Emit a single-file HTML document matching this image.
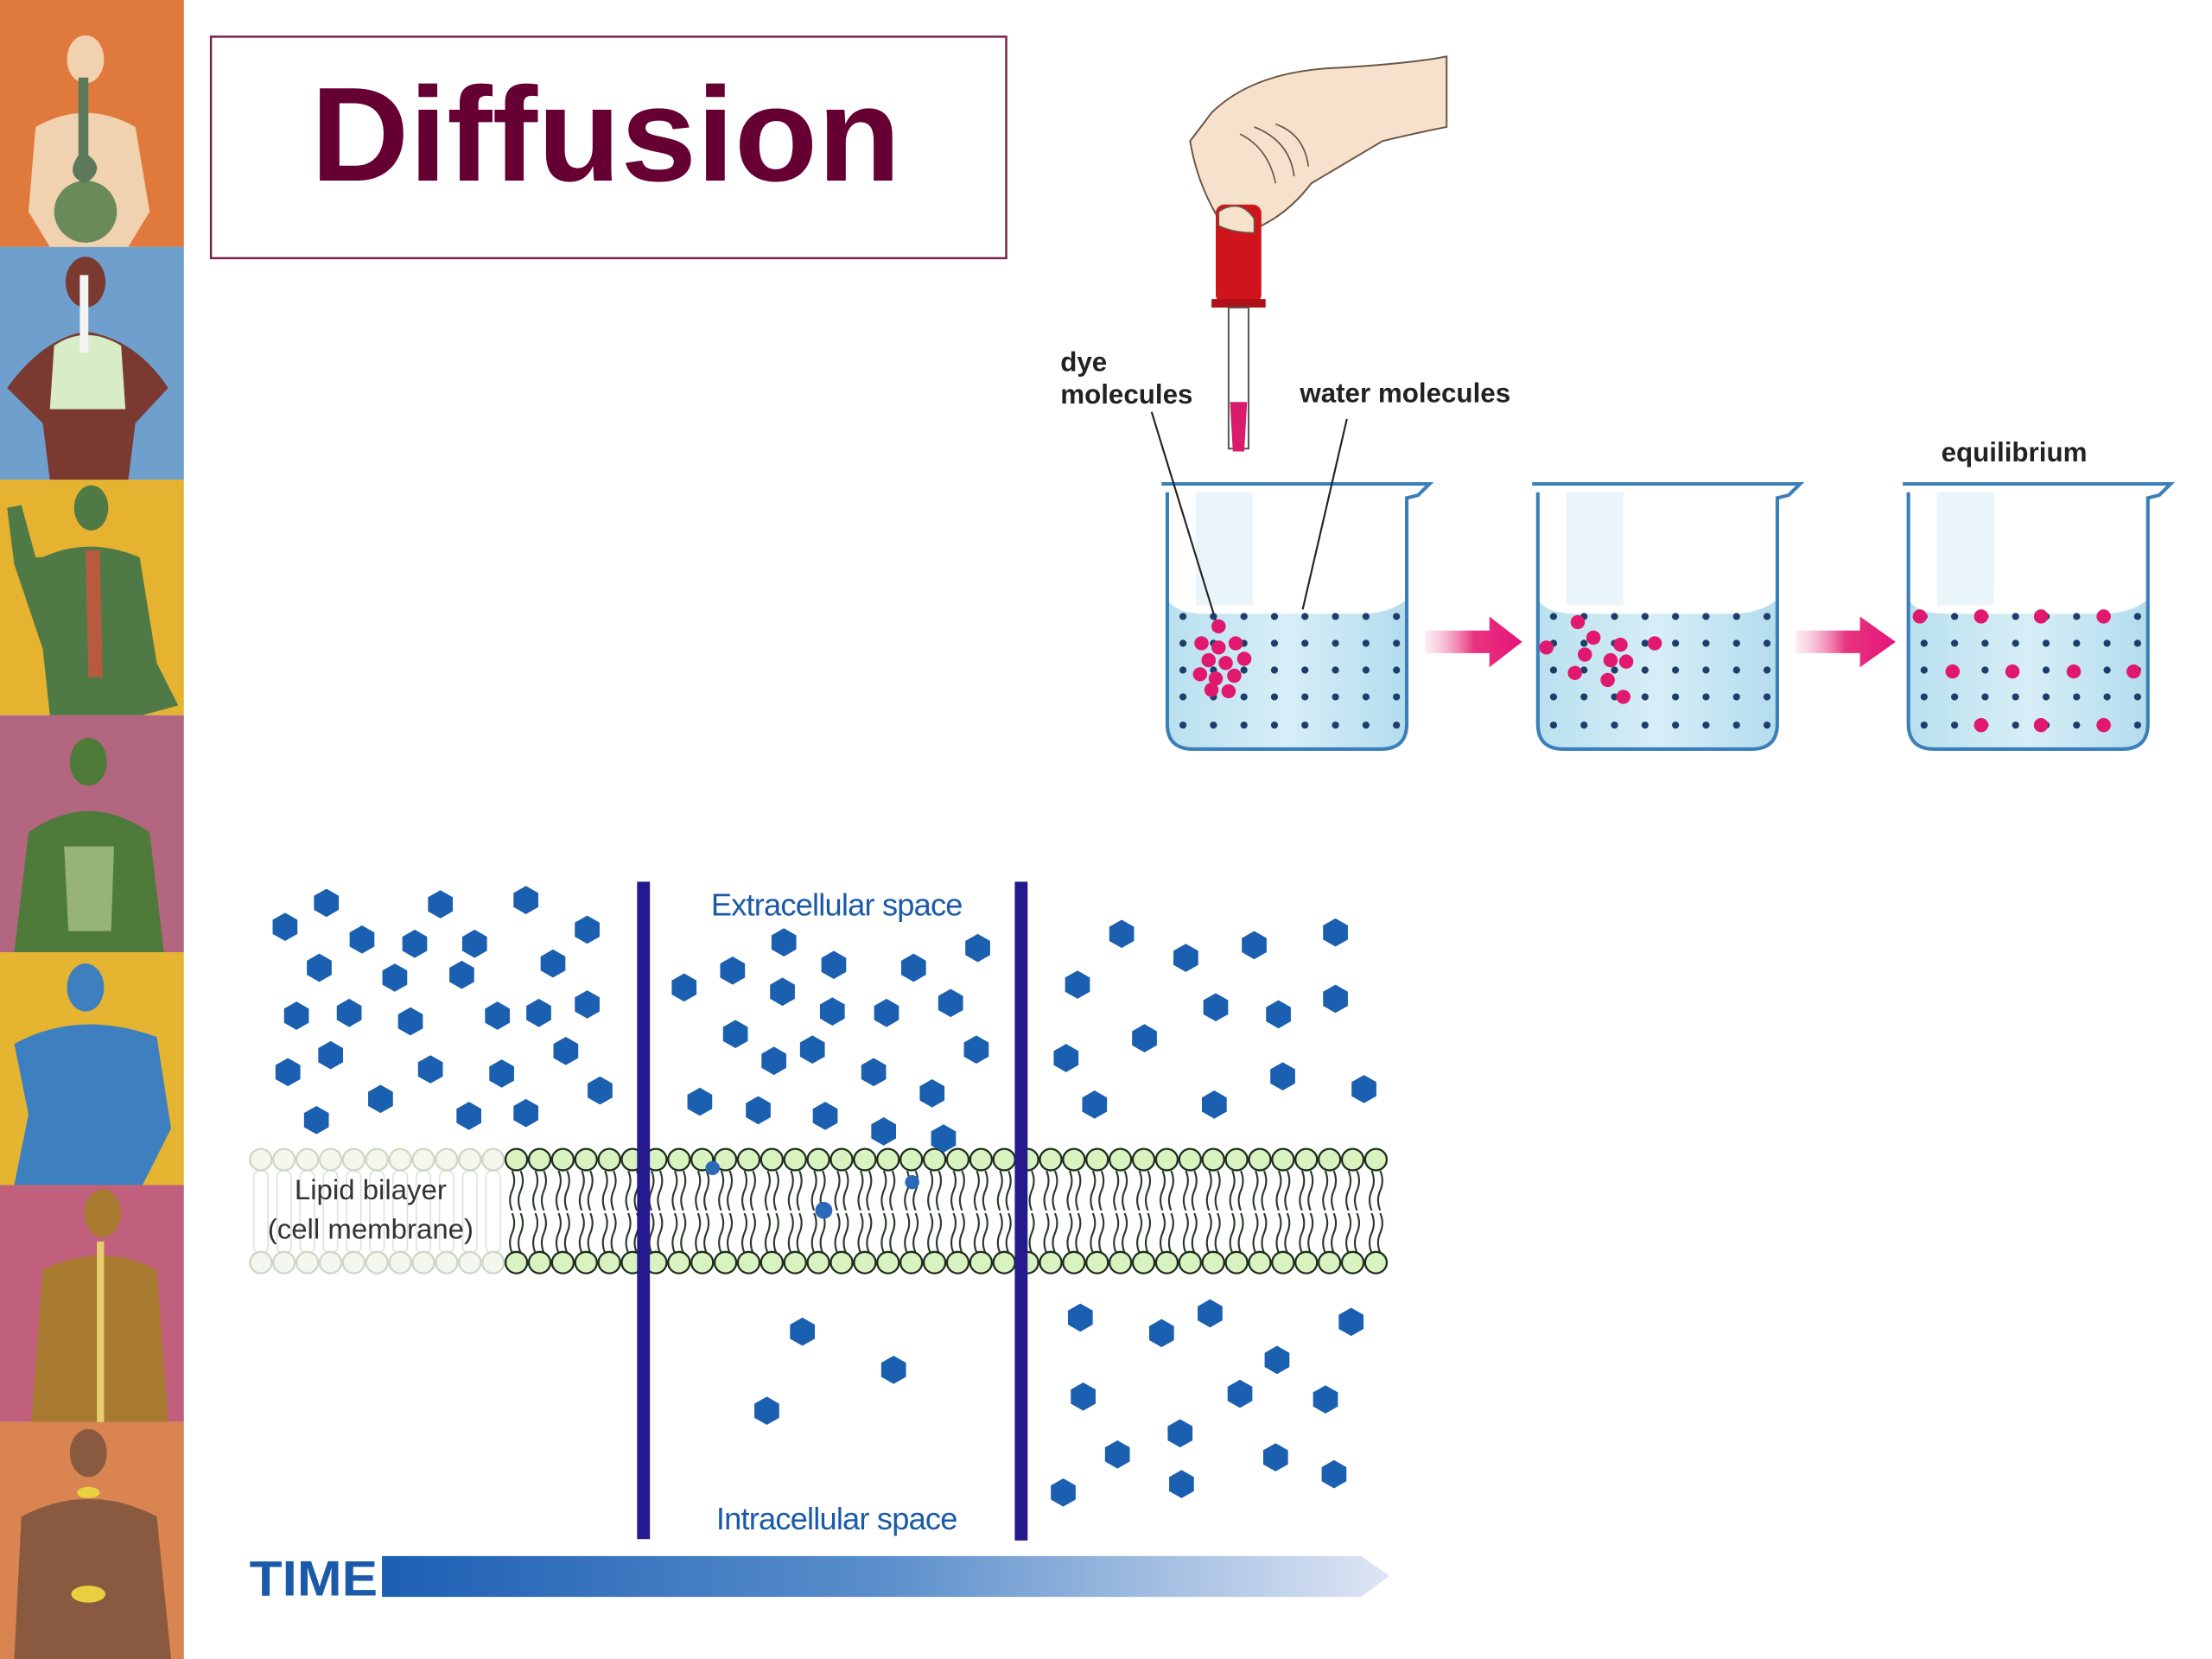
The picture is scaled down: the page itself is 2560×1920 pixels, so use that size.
<!DOCTYPE html>
<html><head><meta charset="utf-8"><style>
html,body{margin:0;padding:0;background:#fff;}
svg{display:block;}
text{font-family:"Liberation Sans",Arial,sans-serif;}
</style></head><body>
<svg width="2560" height="1920" viewBox="0 0 1552 1176" preserveAspectRatio="none" xmlns="http://www.w3.org/2000/svg">
<defs>
<linearGradient id="tg" x1="0" x2="1" y1="0" y2="0"><stop offset="0" stop-color="#1d5fb3"/><stop offset="0.5" stop-color="#5b8fcc"/><stop offset="1" stop-color="#dfe6f4"/></linearGradient>
<linearGradient id="ag" x1="0" x2="1"><stop offset="0" stop-color="#f7c0d8" stop-opacity="0.3"/><stop offset="0.5" stop-color="#e8357f"/><stop offset="1" stop-color="#e5137a"/></linearGradient>
<linearGradient id="wg" x1="0" x2="1"><stop offset="0" stop-color="#b9e0ef"/><stop offset="0.5" stop-color="#d7eef7"/><stop offset="1" stop-color="#b3dcee"/></linearGradient>
<symbol id="beaker" overflow="visible">
<path d="M0,0 L188,0 L180,8 L172,10 L172,170 Q172,188 154,188 L22,188 Q4,188 4,170 L4,6 Z" fill="#fff"/>
<rect x="24" y="6" width="40" height="80" fill="#eaf5fa"/>
<path d="M4,82 L4,170 Q4,188 22,188 L154,188 Q172,188 172,170 L172,82 Q160,92 140,92 L30,92 Q10,92 4,82Z" fill="url(#wg)"/>
<path d="M0,0 L188,0 L180,8 L172,10 L172,170 Q172,188 154,188 L22,188 Q4,188 4,170 L4,6" fill="none" stroke="#3b7fb8" stroke-width="2.5"/>
</symbol>
<g id="hex"><polygon points="0,-10 8.7,-5 8.7,5 0,10 -8.7,5 -8.7,-5" fill="#1a5fb0"/></g>
<g id="wd" fill="#1e3e6a">
<circle cx="0" cy="0" r="2.5"/><circle cx="21.4" cy="0" r="2.5"/><circle cx="42.8" cy="0" r="2.5"/><circle cx="64.2" cy="0" r="2.5"/><circle cx="85.6" cy="0" r="2.5"/><circle cx="107" cy="0" r="2.5"/><circle cx="128.4" cy="0" r="2.5"/><circle cx="149.8" cy="0" r="2.5"/>
</g>
</defs>

<!-- left strip -->
<rect x="0" y="0" width="129" height="175" fill="#e07a3c"/>
<rect x="0" y="175" width="129" height="165" fill="#6e9fcd"/>
<rect x="0" y="340" width="129" height="167" fill="#e6b331"/>
<rect x="0" y="507" width="129" height="168" fill="#b36680"/>
<rect x="0" y="675" width="129" height="165" fill="#e5b430"/>
<rect x="0" y="840" width="129" height="168" fill="#c0607c"/>
<rect x="0" y="1008" width="129" height="168" fill="#d98451"/>
<g stroke="none">
<ellipse cx="60" cy="42" rx="13" ry="17" fill="#f0d2b0"/><path d="M25,90 Q60,70 95,90 L105,150 L90,175 L35,175 L20,150Z" fill="#f0d2b0"/><ellipse cx="60" cy="150" rx="22" ry="22" fill="#6a8a5a"/><path d="M55,55 L62,55 L62,110 Q75,120 60,130 Q45,125 55,110Z" fill="#5c7a5a"/>
<ellipse cx="60" cy="200" rx="14" ry="18" fill="#7b3a30"/><path d="M5,275 Q30,240 60,235 Q95,240 118,275 L95,300 L90,340 L35,340 L30,300Z" fill="#7a3a32"/><path d="M38,245 Q60,230 85,245 L88,290 L35,290Z" fill="#d8ecc8"/><rect x="56" y="195" width="6" height="55" fill="#f4f4f4"/>
<ellipse cx="64" cy="360" rx="12" ry="16" fill="#4f7a45"/><path d="M30,395 Q62,380 98,395 L110,470 L125,500 L100,507 L35,507 L30,460 L10,400 L5,360 L15,358 L25,395Z" fill="#4f7a45"/><path d="M60,390 L70,390 L72,480 L62,480Z" fill="#b85a40"/>
<ellipse cx="62" cy="540" rx="13" ry="17" fill="#4e7a3a"/><path d="M20,590 Q62,560 105,590 L115,675 L10,675Z" fill="#4e7a3a"/><path d="M45,600 L80,600 L78,660 L48,660Z" fill="#c8d8a0" opacity="0.6"/>
<ellipse cx="60" cy="700" rx="13" ry="17" fill="#3d7fbf"/><path d="M10,740 Q55,715 110,735 L120,800 L100,840 L10,840 L20,790Z" fill="#3d7fbf"/>
<ellipse cx="72" cy="860" rx="13" ry="17" fill="#a87a30"/><path d="M30,900 Q72,880 110,900 L118,1008 L22,1008Z" fill="#a87a30"/><rect x="68" y="880" width="5" height="128" fill="#e8d070"/>
<ellipse cx="62" cy="1030" rx="13" ry="17" fill="#8a5a40"/><path d="M15,1075 Q62,1050 110,1075 L120,1176 L10,1176Z" fill="#8a5a40"/><ellipse cx="62" cy="1130" rx="12" ry="6" fill="#e8d040"/><ellipse cx="62" cy="1058" rx="8" ry="4" fill="#e8d040"/>
</g>

<!-- title -->
<rect x="148" y="26" width="558" height="157" fill="#fff" stroke="#7a2048" stroke-width="1.5"/>
<text x="425" y="128" text-anchor="middle" font-size="95" font-weight="bold" fill="#660033" textLength="414" lengthAdjust="spacingAndGlyphs">Diffusion</text>

<!-- hand & dropper -->
<path d="M850,80 Q880,50 940,48 Q990,45 1015,40 L1015,90 Q990,95 970,100 Q945,115 920,130 Q905,150 885,160 Q865,170 855,155 Q840,130 835,100 Z" fill="#f6e1cc" stroke="#6a5545" stroke-width="1.2"/>
<path d="M870,95 Q890,105 895,130 M880,90 Q905,100 908,125 M895,88 Q915,95 918,118" fill="none" stroke="#6a5545" stroke-width="1"/>
<rect x="853" y="145" width="32" height="70" rx="6" fill="#d0141c"/>
<rect x="850" y="212" width="38" height="6" fill="#b01018"/>
<rect x="862" y="218" width="14" height="100" fill="#fff" stroke="#555" stroke-width="1.2"/>
<path d="M863,285 L875,285 L873,320 L865,320Z" fill="#d81b6a"/>
<path d="M855,150 Q870,140 880,155 L880,165 Q865,165 855,160Z" fill="#f6e1cc" stroke="#6a5545" stroke-width="1"/>

<text x="744" y="263" font-size="19" font-weight="bold" fill="#222">dye</text>
<text x="744" y="286" font-size="19" font-weight="bold" fill="#222">molecules</text>
<text x="912" y="285" font-size="19" font-weight="bold" fill="#222">water molecules</text>
<text x="1362" y="327" font-size="19" font-weight="bold" fill="#222">equilibrium</text>

<use href="#beaker" x="815" y="343"/>
<use href="#beaker" x="1075" y="343"/>
<use href="#beaker" x="1335" y="343"/>
<line x1="808" y1="292" x2="853" y2="440" stroke="#222" stroke-width="1.3"/>
<line x1="945" y1="297" x2="914" y2="432" stroke="#222" stroke-width="1.3"/>

<!-- arrows -->
<path d="M1000,447 L1045,447 L1045,437 L1068,455 L1045,473 L1045,463 L1000,463Z" fill="url(#ag)"/>
<path d="M1260,447 L1305,447 L1305,437 L1330,455 L1305,473 L1305,463 L1260,463Z" fill="url(#ag)"/>

<!-- water dots -->
<g transform="translate(830,0)">
<use href="#wd" y="437"/><use href="#wd" y="456"/><use href="#wd" y="475"/><use href="#wd" y="494"/><use href="#wd" y="514"/>
</g>
<g transform="translate(1090,0)">
<use href="#wd" y="437"/><use href="#wd" y="456"/><use href="#wd" y="475"/><use href="#wd" y="494"/><use href="#wd" y="514"/>
</g>
<g transform="translate(1350,0)">
<use href="#wd" y="437"/><use href="#wd" y="456"/><use href="#wd" y="475"/><use href="#wd" y="494"/><use href="#wd" y="514"/>
</g>
<!-- dye dots -->
<g fill="#e0186e">
<circle cx="855" cy="444" r="5"/><circle cx="843" cy="456" r="5"/><circle cx="855" cy="459" r="5"/><circle cx="867" cy="456" r="5"/><circle cx="848" cy="468" r="5"/><circle cx="860" cy="470" r="5"/><circle cx="873" cy="467" r="5"/><circle cx="842" cy="478" r="5"/><circle cx="853" cy="481" r="5"/><circle cx="866" cy="479" r="5"/><circle cx="850" cy="489" r="5"/><circle cx="862" cy="490" r="5"/>
<circle cx="1107" cy="441" r="5"/><circle cx="1118" cy="452" r="5"/><circle cx="1085" cy="459" r="5"/><circle cx="1112" cy="464" r="5"/><circle cx="1137" cy="457" r="5"/><circle cx="1141" cy="469" r="5"/><circle cx="1105" cy="477" r="5"/><circle cx="1128" cy="482" r="5"/><circle cx="1139" cy="494" r="5"/><circle cx="1161" cy="456" r="5"/><circle cx="1130" cy="468" r="5"/>
<circle cx="1347" cy="437" r="5"/><circle cx="1390" cy="437" r="5"/><circle cx="1432" cy="437" r="5"/><circle cx="1476" cy="437" r="5"/><circle cx="1370" cy="476" r="5"/><circle cx="1412" cy="476" r="5"/><circle cx="1455" cy="476" r="5"/><circle cx="1497" cy="476" r="5"/><circle cx="1390" cy="514" r="5"/><circle cx="1432" cy="514" r="5"/><circle cx="1476" cy="514" r="5"/>
</g>

<!-- membrane -->
<rect x="350" y="828" width="622" height="62" fill="#fff"/>
<g stroke="#2a3a2a" stroke-width="1.3" fill="none" id="tails"></g>
<g id="memb"></g>
<text x="260" y="850" text-anchor="middle" font-size="20" fill="#333">Lipid bilayer</text>
<text x="260" y="878" text-anchor="middle" font-size="20" fill="#333">(cell membrane)</text>

<!-- hexagons -->
<g id="hexes"></g>

<!-- vertical dividers -->
<rect x="447" y="625" width="9" height="466" fill="#241a8e"/>
<rect x="712" y="625" width="9" height="467" fill="#241a8e"/>

<text x="587" y="649" text-anchor="middle" font-size="22" fill="#1a5aa8" letter-spacing="-0.5">Extracellular space</text>
<text x="587" y="1084" text-anchor="middle" font-size="22" fill="#1a5aa8" letter-spacing="-0.5">Intracellular space</text>

<!-- time arrow -->
<text x="175" y="1131" font-size="35" font-weight="bold" fill="#1a5aa8" textLength="90" lengthAdjust="spacingAndGlyphs">TIME</text>
<path d="M268,1103 L955,1103 L975,1117 L955,1132 L268,1132Z" fill="url(#tg)"/>

<script>
(function(){
var ns="http://www.w3.org/2000/svg";
var m=document.getElementById("memb"), t=document.getElementById("tails");
for(var x=183;x<970;x+=16.3){
 var pale=x<350;
 var col=pale?"#f3f7ee":"#d8f2c0", st=pale?"#cfd6c9":"#1e2e1e";
 if(!pale){
  for(var k=-1;k<=1;k+=2){
   var p=document.createElementNS(ns,"path");
   var xx=x+k*3;
   p.setAttribute("d","M"+xx+",830 q3,7 0,14 q-3,7 0,14 M"+xx+",860 q3,7 0,14 q-3,7 0,14");
   t.appendChild(p);
  }
 } else {
  var r=document.createElementNS(ns,"rect");
  r.setAttribute("x",x-5);r.setAttribute("y",830);r.setAttribute("width",10);r.setAttribute("height",58);r.setAttribute("rx",4);
  r.setAttribute("fill","none");r.setAttribute("stroke","#dde3d8");r.setAttribute("stroke-width","1");
  m.appendChild(r);
 }
 [822,895].forEach(function(y){
  var c=document.createElementNS(ns,"circle");
  c.setAttribute("cx",x);c.setAttribute("cy",y);c.setAttribute("r",7.6);
  c.setAttribute("fill",col);c.setAttribute("stroke",st);c.setAttribute("stroke-width",1.4);
  m.appendChild(c);
 });
}
var pts=[[200,657],[229,640],[309,641],[369,638],[412,659],[254,666],[291,669],[333,669],[224,686],[277,693],[324,691],[388,683],[208,720],[245,718],[288,724],[349,720],[378,718],[412,712],[202,760],[232,748],[302,758],[352,761],[397,745],[267,779],[222,794],[329,791],[369,789],[421,773],
[550,668],[686,672],[480,700],[514,688],[585,684],[641,686],[549,703],[584,717],[622,718],[667,711],[516,733],[570,744],[543,752],[613,760],[654,775],[685,744],[491,781],[532,787],[579,791],[620,802],[662,807],
[563,944],[627,971],[538,1000],
[787,662],[832,679],[880,670],[937,661],[756,698],[853,714],[897,719],[937,708],[803,736],[748,750],[900,763],[957,772],[768,783],[852,783],
[758,934],[815,945],[849,931],[948,937],[896,964],[760,990],[870,988],[930,992],[828,1016],[784,1031],[895,1033],[936,1045],[746,1058],[829,1052]];
var h=document.getElementById("hexes");
pts.forEach(function(q){
 var u=document.createElementNS(ns,"use");
 u.setAttribute("href","#hex");u.setAttribute("transform","translate("+q[0]+","+q[1]+")");
 h.appendChild(u);
});
[[500,828,5],[578,858,6],[640,838,5]].forEach(function(q){
 var c=document.createElementNS(ns,"circle");
 c.setAttribute("cx",q[0]);c.setAttribute("cy",q[1]);c.setAttribute("r",q[2]);c.setAttribute("fill","#2a6ab8");
 h.appendChild(c);
});
})();
</script>
</svg>
</body></html>
